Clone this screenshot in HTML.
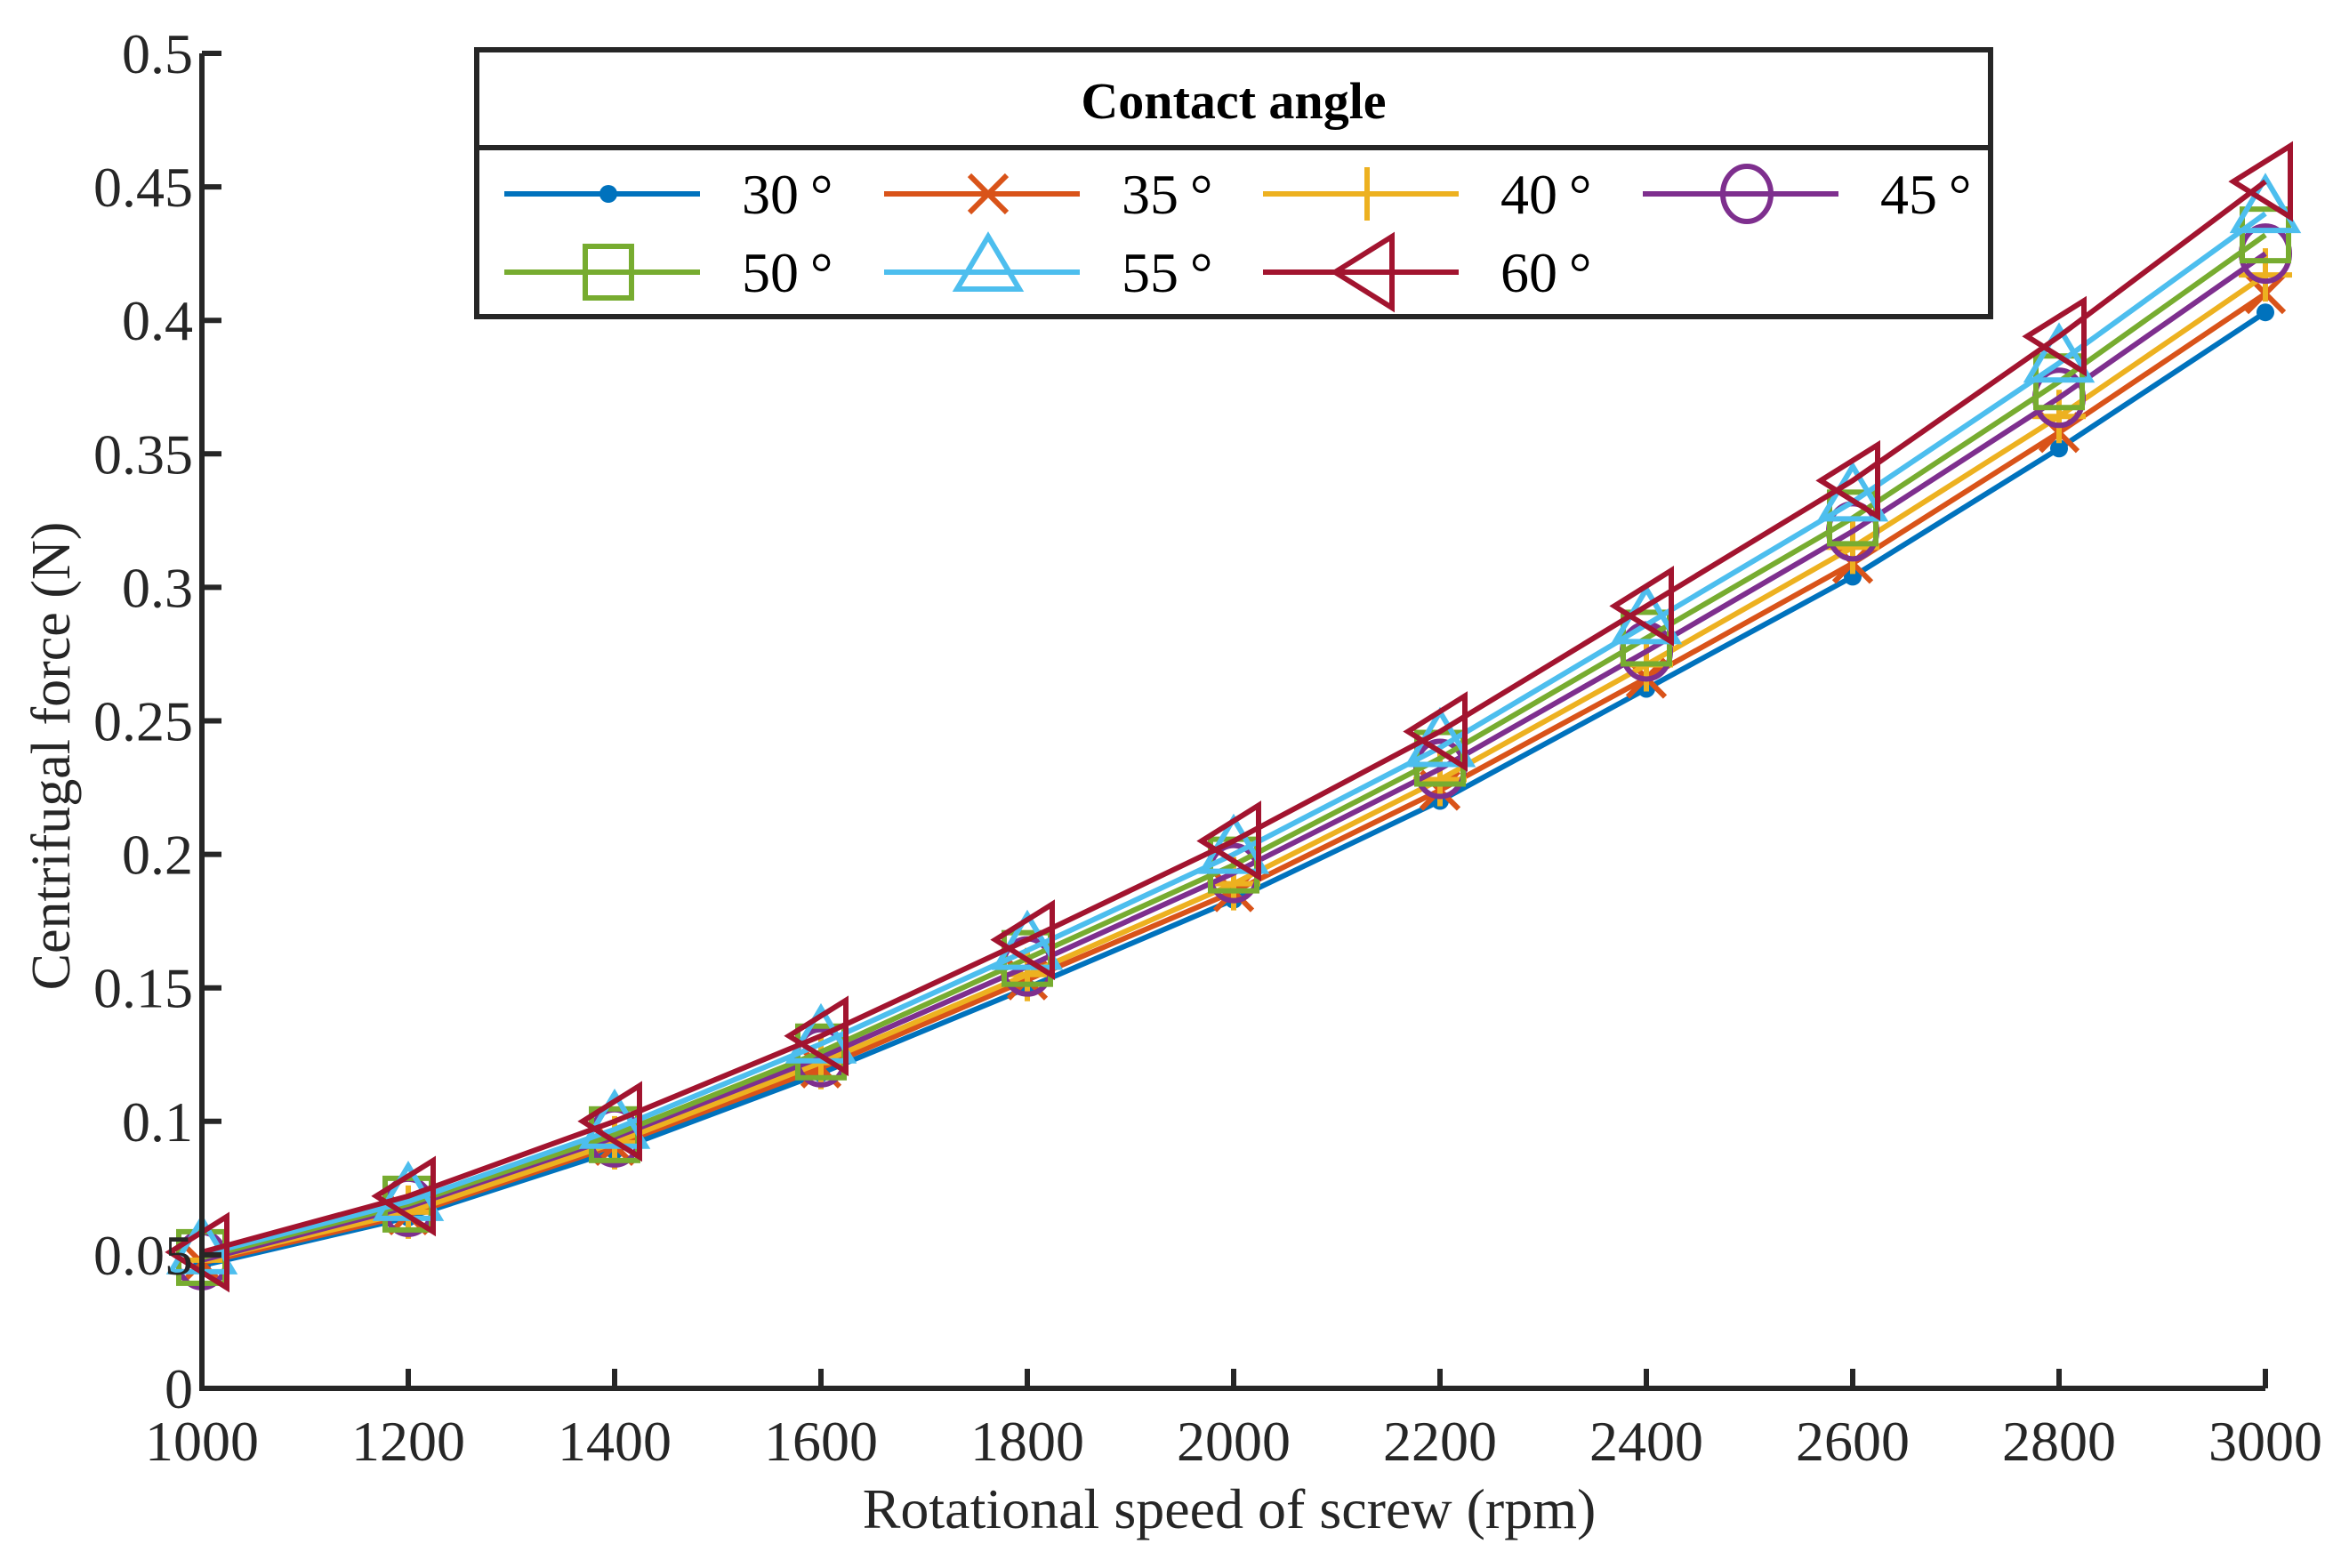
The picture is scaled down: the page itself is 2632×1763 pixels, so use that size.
<!DOCTYPE html>
<html><head><meta charset="utf-8"><style>
html,body{margin:0;padding:0;background:#fff}
svg{display:block;font-family:"Liberation Serif",serif}
</style></head><body>
<svg id="chart" width="2632" height="1763" viewBox="0 0 2632 1763" xmlns="http://www.w3.org/2000/svg">
<rect width="2632" height="1763" fill="#fff"/>
<g id="plot"></g>
<g id="axes"></g>
<g id="legend"></g>
</svg>
<script>
const categories = [1000,1200,1400,1600,1800,2000,2200,2400,2600,2800,3000];
const seriesNames = ["30°","35°","40°","45°","50°","55°","60°"];
const s30 = [0.046,0.064,0.089,0.118,0.150,0.183,0.220,0.262,0.304,0.352,0.403];
const s35 = [0.047,0.065,0.091,0.120,0.153,0.186,0.224,0.266,0.309,0.358,0.410];
const s40 = [0.048,0.066,0.092,0.122,0.155,0.189,0.228,0.271,0.315,0.364,0.417];
const s45 = [0.048,0.068,0.094,0.124,0.158,0.193,0.232,0.276,0.321,0.371,0.425];
const s50 = [0.049,0.069,0.095,0.126,0.161,0.196,0.236,0.281,0.326,0.377,0.432];
const s55 = [0.050,0.070,0.097,0.129,0.164,0.200,0.240,0.286,0.332,0.384,0.440];
const s60 = [0.051,0.072,0.100,0.132,0.168,0.205,0.246,0.293,0.340,0.394,0.452];
const yTicks = [0,0.05,0.1,0.15,0.2,0.25,0.3,0.35,0.4,0.45,0.5];
const yTickLabels = ["0","0.05","0.1","0.15","0.2","0.25","0.3","0.35","0.4","0.45","0.5"];
const xTicks = [1000,1200,1400,1600,1800,2000,2200,2400,2600,2800,3000];

const series=[s30,s35,s40,s45,s50,s55,s60];
const colors=["#0072BD","#D95319","#EDB120","#7E2F8E","#77AC30","#4DBEEE","#A2142F"];
const markers=["dot","x","plus","circle","square","triangle","left"];
const NS="http://www.w3.org/2000/svg";
const X0=227,X1=2547,Y0=1561,Y1=60;
const xs=v=>X0+(v-1000)/2000*(X1-X0);
const ys=v=>Y0-v/0.5*(Y0-Y1);
function el(tag,attrs,parent){const e=document.createElementNS(NS,tag);for(const k in attrs)e.setAttribute(k,attrs[k]);parent.appendChild(e);return e;}
function marker(type,cx,cy,c,g){
  const sw=6;
  if(type==="dot")return el("circle",{cx,cy,r:10,fill:c},g);
  if(type==="x"){return el("path",{d:`M${cx-21} ${cy-21}L${cx+21} ${cy+21}M${cx-21} ${cy+21}L${cx+21} ${cy-21}`,stroke:c,"stroke-width":sw,fill:"none"},g);}
  if(type==="plus"){return el("path",{d:`M${cx-30} ${cy}L${cx+30} ${cy}M${cx} ${cy-30}L${cx} ${cy+30}`,stroke:c,"stroke-width":sw,fill:"none"},g);}
  if(type==="circle")return el("ellipse",{cx,cy,rx:27,ry:31,stroke:c,"stroke-width":sw,fill:"none"},g);
  if(type==="square")return el("rect",{x:cx-26,y:cy-29,width:52,height:58,stroke:c,"stroke-width":sw,fill:"none"},g);
  if(type==="triangle")return el("path",{d:`M${cx} ${cy-40}L${cx+35} ${cy+19}L${cx-35} ${cy+19}Z`,stroke:c,"stroke-width":sw,fill:"none"},g);
  if(type==="left")return el("path",{d:`M${cx-36} ${cy}L${cx+28} ${cy-40}L${cx+28} ${cy+40}Z`,stroke:c,"stroke-width":sw,fill:"none"},g);
}
const plot=document.getElementById("plot");
series.forEach((s,i)=>{
  const g=el("g",{},plot);
  
  
  const pl=el("polyline",{points:s.map((v,j)=>xs(categories[j])+","+ys(v)).join(" "),stroke:colors[i],"stroke-width":6,fill:"none"},g);
  
  
  s.forEach((v,j)=>{
    const m=marker(markers[i],xs(categories[j]),ys(v),colors[i],g);
    
    
  });
});
const axes=document.getElementById("axes");
const ax=el("path",{d:`M${X0} ${Y1}L${X0} ${Y0}L${X1} ${Y0}`,stroke:"#262626","stroke-width":6,fill:"none"},axes);


yTicks.forEach((v,i)=>{
  const y=ys(v);
  const t=el("line",{x1:X0,y1:y,x2:X0+22,y2:y,stroke:"#262626","stroke-width":6},axes);
  
  
  const tx=el("text",{x:X0-10,y:y+22,"text-anchor":"end","font-size":64,fill:"#262626"},axes);
  tx.textContent=yTickLabels[i];
  
  
});
xTicks.forEach(v=>{
  const x=xs(v);
  const t=el("line",{x1:x,y1:Y0,x2:x,y2:Y0-22,stroke:"#262626","stroke-width":6},axes);
  
  
  const tx=el("text",{x:x,y:1642,"text-anchor":"middle","font-size":64,fill:"#262626"},axes);
  tx.textContent=v;
  
  
});
const xt=el("text",{x:(X0+X1)/2-5,y:1718,"text-anchor":"middle","font-size":64,fill:"#262626"},axes);
xt.textContent="Rotational speed of screw (rpm)";


const yt=el("text",{x:0,y:0,"text-anchor":"middle","font-size":62,fill:"#262626",transform:`translate(78 850) rotate(-90)`},axes);
yt.textContent="Centrifugal force (N)";



const lg=document.getElementById("legend");
const box=el("rect",{x:536,y:56,width:1702,height:300,fill:"#fff",stroke:"#262626","stroke-width":6},lg);


const dv=el("line",{x1:536,y1:166,x2:2238,y2:166,stroke:"#262626","stroke-width":6},lg);


const lt=el("text",{x:1387,y:133,"text-anchor":"middle","font-size":58,"font-weight":"bold",fill:"#000"},lg);
lt.textContent="Contact angle";


const colX=[567,994,1420,1847],rowY=[218,306];
seriesNames.forEach((n,i)=>{
  const cx=colX[i%4],cy=rowY[Math.floor(i/4)];
  const g=el("g",{},lg);
  
  
  el("line",{x1:cx,y1:cy,x2:cx+220,y2:cy,stroke:colors[i],"stroke-width":6},g);
  marker(markers[i],cx+117,cy,colors[i],g);
  const t=el("text",{x:cx+267,y:cy+22,"font-size":64,fill:"#000"},g);
  t.textContent=n.replace('°','\u2009°');
});
</script>
</body></html>
